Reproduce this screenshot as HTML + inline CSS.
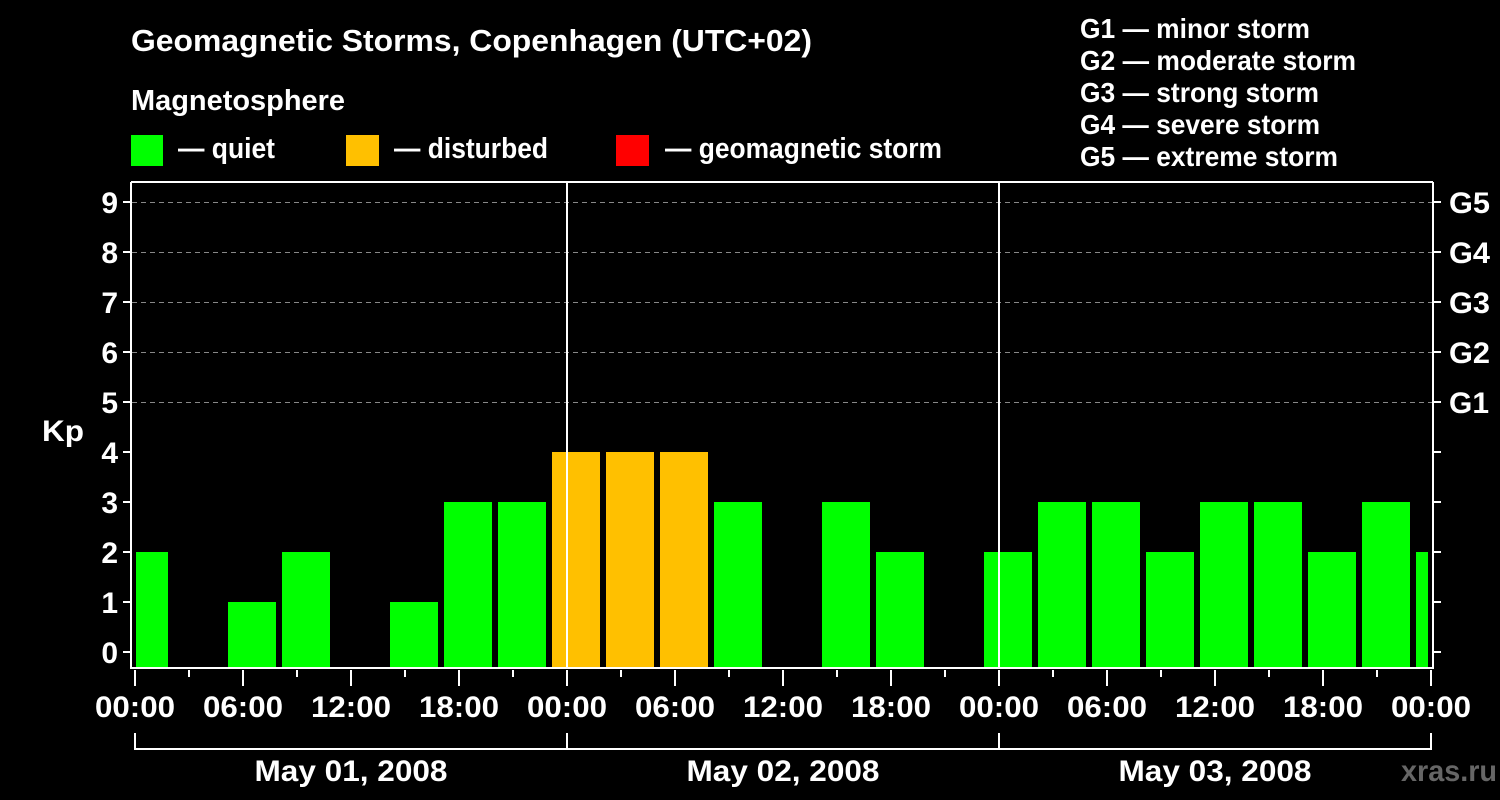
<!DOCTYPE html>
<html><head><meta charset="utf-8"><style>
html,body{margin:0;padding:0;background:#000;}
svg{display:block;}
text{font-family:"Liberation Sans",Arial,sans-serif;font-weight:bold;fill:#fff;}
</style></head><body>
<svg width="1500" height="800" xmlns="http://www.w3.org/2000/svg">
<rect width="1500" height="800" fill="#000"/>
<text x="131" y="51" font-size="31" textLength="681" lengthAdjust="spacingAndGlyphs">Geomagnetic Storms, Copenhagen (UTC+02)</text>
<text x="131" y="110" font-size="29" textLength="214" lengthAdjust="spacingAndGlyphs">Magnetosphere</text>
<rect x="131" y="135" width="32" height="31" fill="#00ff00"/>
<rect x="346" y="135" width="33" height="31" fill="#ffc000"/>
<rect x="616" y="135" width="33" height="31" fill="#ff0000"/>
<text x="178" y="158" font-size="29" textLength="97" lengthAdjust="spacingAndGlyphs">— quiet</text>
<text x="394" y="158" font-size="29" textLength="154" lengthAdjust="spacingAndGlyphs">— disturbed</text>
<text x="665" y="158" font-size="29" textLength="277" lengthAdjust="spacingAndGlyphs">— geomagnetic storm</text>
<g font-size="28">
<text x="1080" y="38" textLength="230" lengthAdjust="spacingAndGlyphs">G1 — minor storm</text>
<text x="1080" y="70" textLength="276" lengthAdjust="spacingAndGlyphs">G2 — moderate storm</text>
<text x="1080" y="102" textLength="239" lengthAdjust="spacingAndGlyphs">G3 — strong storm</text>
<text x="1080" y="134" textLength="240" lengthAdjust="spacingAndGlyphs">G4 — severe storm</text>
<text x="1080" y="166" textLength="258" lengthAdjust="spacingAndGlyphs">G5 — extreme storm</text>
</g>
<g stroke="#888" stroke-width="1" stroke-dasharray="5,4">
<line x1="132" y1="202.5" x2="1432" y2="202.5"/>
<line x1="132" y1="252.5" x2="1432" y2="252.5"/>
<line x1="132" y1="302.5" x2="1432" y2="302.5"/>
<line x1="132" y1="352.5" x2="1432" y2="352.5"/>
<line x1="132" y1="402.5" x2="1432" y2="402.5"/>
</g>
<g fill="#00ff00">
<rect x="136" y="552" width="32" height="115"/>
<rect x="228" y="602" width="48" height="65"/>
<rect x="282" y="552" width="48" height="115"/>
<rect x="390" y="602" width="48" height="65"/>
<rect x="444" y="502" width="48" height="165"/>
<rect x="498" y="502" width="48" height="165"/>
<rect x="714" y="502" width="48" height="165"/>
<rect x="822" y="502" width="48" height="165"/>
<rect x="876" y="552" width="48" height="115"/>
<rect x="984" y="552" width="48" height="115"/>
<rect x="1038" y="502" width="48" height="165"/>
<rect x="1092" y="502" width="48" height="165"/>
<rect x="1146" y="552" width="48" height="115"/>
<rect x="1200" y="502" width="48" height="165"/>
<rect x="1254" y="502" width="48" height="165"/>
<rect x="1308" y="552" width="48" height="115"/>
<rect x="1362" y="502" width="48" height="165"/>
<rect x="1416" y="552" width="12" height="115"/>
</g>
<g fill="#ffc000">
<rect x="552" y="452" width="48" height="215"/>
<rect x="606" y="452" width="48" height="215"/>
<rect x="660" y="452" width="48" height="215"/>
</g>
<g stroke="#fff" stroke-width="2" fill="none">
<polyline points="1433,182 1433,668 131,668 131,182"/>
<line x1="131" y1="182" x2="1433" y2="182"/>
<line x1="567" y1="182" x2="567" y2="668"/>
<line x1="999" y1="182" x2="999" y2="668"/>
</g>
<g stroke="#fff" stroke-width="2">
<line x1="123" y1="652" x2="131" y2="652"/><line x1="123" y1="602" x2="131" y2="602"/>
<line x1="123" y1="552" x2="131" y2="552"/><line x1="123" y1="502" x2="131" y2="502"/>
<line x1="123" y1="452" x2="131" y2="452"/><line x1="123" y1="402" x2="131" y2="402"/>
<line x1="123" y1="352" x2="131" y2="352"/><line x1="123" y1="302" x2="131" y2="302"/>
<line x1="123" y1="252" x2="131" y2="252"/><line x1="123" y1="202" x2="131" y2="202"/>
<line x1="1433" y1="652" x2="1441" y2="652"/><line x1="1433" y1="602" x2="1441" y2="602"/>
<line x1="1433" y1="552" x2="1441" y2="552"/><line x1="1433" y1="502" x2="1441" y2="502"/>
<line x1="1433" y1="452" x2="1441" y2="452"/><line x1="1433" y1="402" x2="1441" y2="402"/>
<line x1="1433" y1="352" x2="1441" y2="352"/><line x1="1433" y1="302" x2="1441" y2="302"/>
<line x1="1433" y1="252" x2="1441" y2="252"/><line x1="1433" y1="202" x2="1441" y2="202"/>
</g>
<g stroke="#fff" stroke-width="2">
<line x1="135" y1="670" x2="135" y2="686"/><line x1="189" y1="670" x2="189" y2="677"/>
<line x1="243" y1="670" x2="243" y2="686"/><line x1="297" y1="670" x2="297" y2="677"/>
<line x1="351" y1="670" x2="351" y2="686"/><line x1="405" y1="670" x2="405" y2="677"/>
<line x1="459" y1="670" x2="459" y2="686"/><line x1="513" y1="670" x2="513" y2="677"/>
<line x1="567" y1="670" x2="567" y2="686"/><line x1="621" y1="670" x2="621" y2="677"/>
<line x1="675" y1="670" x2="675" y2="686"/><line x1="729" y1="670" x2="729" y2="677"/>
<line x1="783" y1="670" x2="783" y2="686"/><line x1="837" y1="670" x2="837" y2="677"/>
<line x1="891" y1="670" x2="891" y2="686"/><line x1="945" y1="670" x2="945" y2="677"/>
<line x1="999" y1="670" x2="999" y2="686"/><line x1="1053" y1="670" x2="1053" y2="677"/>
<line x1="1107" y1="670" x2="1107" y2="686"/><line x1="1161" y1="670" x2="1161" y2="677"/>
<line x1="1215" y1="670" x2="1215" y2="686"/><line x1="1269" y1="670" x2="1269" y2="677"/>
<line x1="1323" y1="670" x2="1323" y2="686"/><line x1="1377" y1="670" x2="1377" y2="677"/>
<line x1="1431" y1="670" x2="1431" y2="686"/>
</g>
<g stroke="#fff" stroke-width="2" fill="none">
<polyline points="135,733 135,749 1431,749 1431,733"/>
<line x1="567" y1="733" x2="567" y2="749"/>
<line x1="999" y1="733" x2="999" y2="749"/>
</g>
<g font-size="30" text-anchor="end">
<text x="118" y="663">0</text><text x="118" y="613">1</text><text x="118" y="563">2</text>
<text x="118" y="513">3</text><text x="118" y="463">4</text><text x="118" y="413">5</text>
<text x="118" y="363">6</text><text x="118" y="313">7</text><text x="118" y="263">8</text>
<text x="118" y="213">9</text>
</g>
<text x="42" y="441" font-size="30" textLength="42" lengthAdjust="spacingAndGlyphs">Kp</text>
<g font-size="30">
<text x="1449" y="413" textLength="40" lengthAdjust="spacingAndGlyphs">G1</text><text x="1449" y="363" textLength="41" lengthAdjust="spacingAndGlyphs">G2</text><text x="1449" y="313" textLength="41" lengthAdjust="spacingAndGlyphs">G3</text>
<text x="1449" y="263" textLength="41" lengthAdjust="spacingAndGlyphs">G4</text><text x="1449" y="213" textLength="41" lengthAdjust="spacingAndGlyphs">G5</text>
</g>
<g font-size="30" text-anchor="middle">
<text x="135" y="717" textLength="80" lengthAdjust="spacingAndGlyphs">00:00</text><text x="243" y="717" textLength="80" lengthAdjust="spacingAndGlyphs">06:00</text><text x="351" y="717" textLength="80" lengthAdjust="spacingAndGlyphs">12:00</text>
<text x="459" y="717" textLength="80" lengthAdjust="spacingAndGlyphs">18:00</text><text x="567" y="717" textLength="80" lengthAdjust="spacingAndGlyphs">00:00</text><text x="675" y="717" textLength="80" lengthAdjust="spacingAndGlyphs">06:00</text>
<text x="783" y="717" textLength="80" lengthAdjust="spacingAndGlyphs">12:00</text><text x="891" y="717" textLength="80" lengthAdjust="spacingAndGlyphs">18:00</text><text x="999" y="717" textLength="80" lengthAdjust="spacingAndGlyphs">00:00</text>
<text x="1107" y="717" textLength="80" lengthAdjust="spacingAndGlyphs">06:00</text><text x="1215" y="717" textLength="80" lengthAdjust="spacingAndGlyphs">12:00</text><text x="1323" y="717" textLength="80" lengthAdjust="spacingAndGlyphs">18:00</text>
<text x="1431" y="717" textLength="80" lengthAdjust="spacingAndGlyphs">00:00</text>
<text x="351" y="781" textLength="193" lengthAdjust="spacingAndGlyphs">May 01, 2008</text>
<text x="783" y="781" textLength="193" lengthAdjust="spacingAndGlyphs">May 02, 2008</text>
<text x="1215" y="781" textLength="193" lengthAdjust="spacingAndGlyphs">May 03, 2008</text>
</g>
<text x="1401" y="781" font-size="30" style="fill:#666" textLength="96" lengthAdjust="spacingAndGlyphs">xras.ru</text>
</svg>
</body></html>
